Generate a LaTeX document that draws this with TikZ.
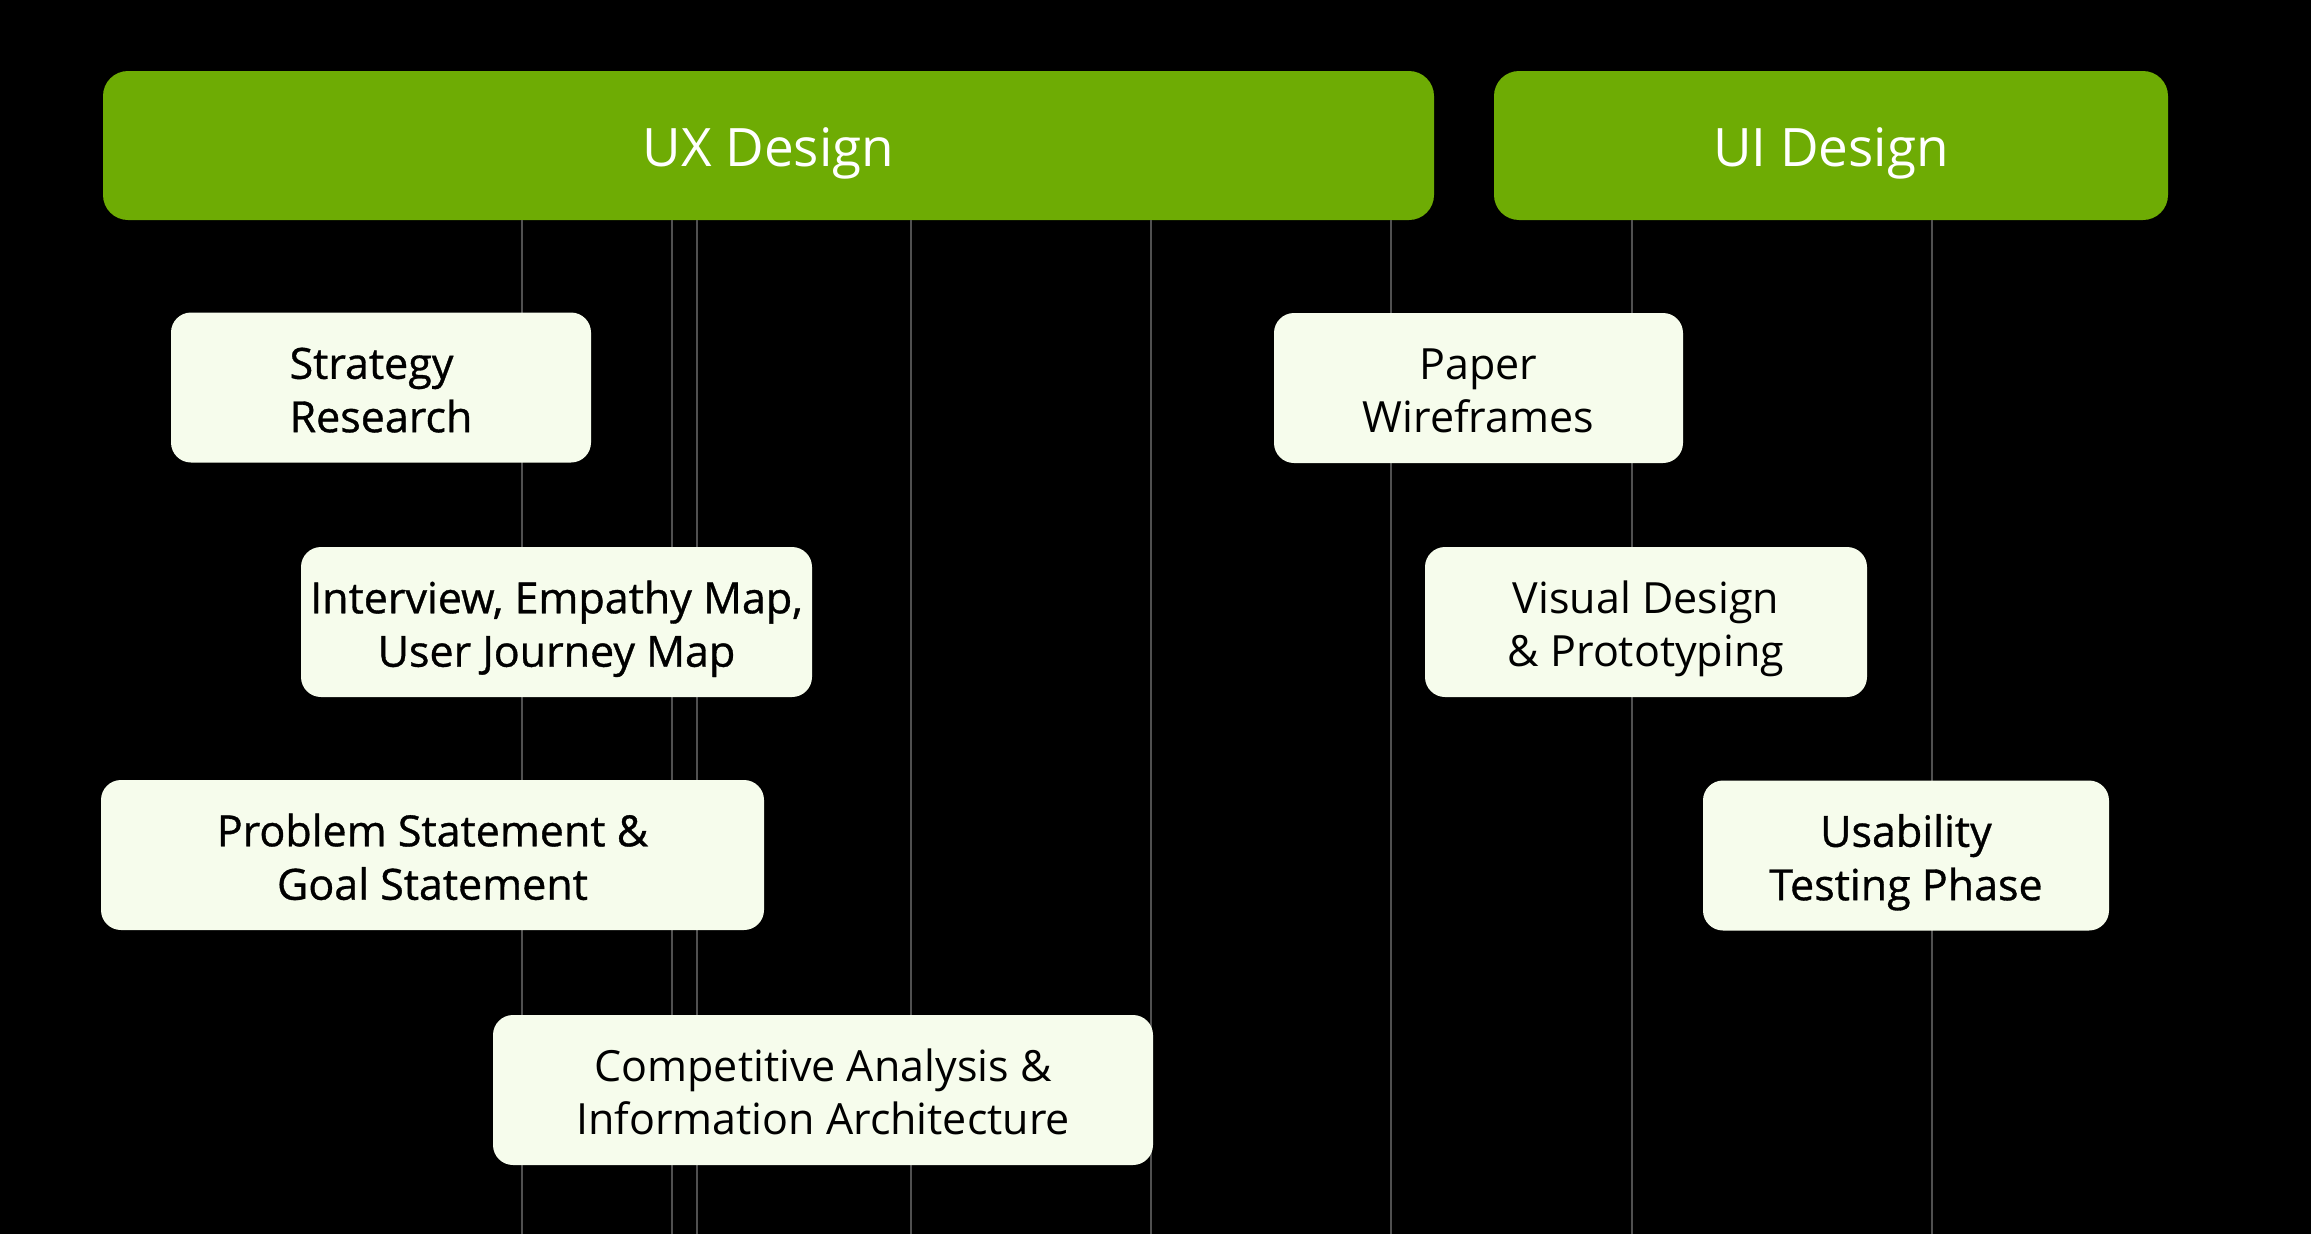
\documentclass[tikz,border=0pt]{standalone}
\usepackage{fontspec}
\setmainfont{Open Sans}
\newfontfamily\mediumfont[FakeBold=0.8]{Open Sans}
\usepackage{tikz}
\definecolor{phasegreen}{RGB}{110,172,4}
\definecolor{taskcream}{RGB}{246,252,236}
\definecolor{guidegray}{RGB}{80,80,80}
\tikzset{
	phasebar/.style={fill=phasegreen, rounded corners=25pt, minimum height=149pt, inner sep=0pt,
		text=white, font=\fontsize{53}{62}\selectfont, text height=50pt, text depth=7.6pt},
	taskbox/.style={fill=taskcream, rounded corners=20pt, minimum height=150pt, inner sep=0pt,
		align=center, text=black, font=\fontsize{43}{53.4}\selectfont,
		text height=100pt, text depth=10.6pt},
	medium/.style={font=\fontsize{43}{53.4}\mediumfont},
	guide/.style={line width=1.5pt, color=guidegray}
}

\begin{document}
\begin{tikzpicture}[x=1pt, y=-1pt]
		%%%%% START %%%%%
		
		\fill[black] (0, 0) rectangle (2311, 1234);
		\useasboundingbox (0, 0) rectangle (2311, 1234);
		
		\node[phasebar, minimum width=1331pt] (ux) at (768.5, 145.5) {UX Design};
		\node[phasebar, minimum width=674pt] (ui) at (1831, 145.5) {UI Design};
		
		\coordinate (floor) at (0, 1234);
		\foreach \x in {522, 672, 697, 911, 1151, 1391}
			\draw[guide] (ux.south -| \x, 0) -- (floor -| \x, 0);
		\foreach \x in {1632, 1932}
			\draw[guide] (ui.south -| \x, 0) -- (floor -| \x, 0);
		
		\node[taskbox, medium, minimum width=420pt, align=left] (strategy) at (381, 387.5) {Strategy\\Research};
		\node[taskbox, medium, minimum width=511pt] (interview) at (556.5, 622) {Interview, Empathy Map,\\User Journey Map};
		\node[taskbox, medium, minimum width=663pt] (problem) at (432.5, 855) {Problem Statement \&\\Goal Statement};
		\node[taskbox, minimum width=660pt] (competitive) at (823, 1090) {Competitive Analysis \&\\Information Architecture};
		
		\node[taskbox, minimum width=409pt] (paper) at (1478.5, 388) {Paper\\Wireframes};
		\node[taskbox, minimum width=442pt] (visual) at (1646, 622) {Visual Design\\\& Prototyping};
		\node[taskbox, medium, minimum width=406pt] (usability) at (1906, 855.5) {Usability\\Testing Phase};
		
		%%%%% END %%%%%
\end{tikzpicture}
\end{document}
